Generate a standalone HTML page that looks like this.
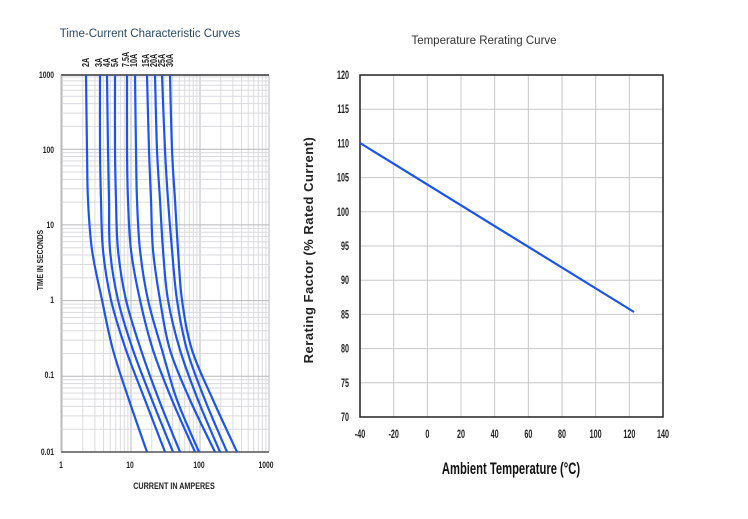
<!DOCTYPE html>
<html><head><meta charset="utf-8"><style>
body{margin:0;background:#fff;}
svg{display:block;}
</style></head><body>
<svg id="s" width="748" height="519" xmlns="http://www.w3.org/2000/svg" font-family="Liberation Sans, sans-serif">
<rect width="748" height="519" fill="#fff"/>
<g id="g"></g>
<text x="150" y="37" font-size="11.5" fill="#2b4a66" text-anchor="middle">Time-Current Characteristic Curves</text>
<text x="484" y="44" font-size="11.5" fill="#333" text-anchor="middle">Temperature Rerating Curve</text>
<g id="lt" font-weight="bold" font-size="9" fill="#222"></g>
<g id="cl" font-weight="bold" font-size="9" fill="#222"></g>
<g font-weight="bold" font-size="12" fill="#222" text-anchor="end" id="ry"></g>
<g font-weight="bold" font-size="12" fill="#222" text-anchor="middle" id="rx"></g>
<text transform="translate(511,474) scale(0.66,1)" font-weight="bold" font-size="17" fill="#111" text-anchor="middle">Ambient Temperature (°C)</text>
<text transform="translate(313,250) rotate(-90)" font-weight="bold" font-size="13" fill="#222" text-anchor="middle" letter-spacing="0.5">Rerating Factor (% Rated Current)</text>
</svg>
<script>
var g=document.getElementById('g'),h='';
function L(x1,y1,x2,y2,c,w){h+='<line x1="'+x1+'" y1="'+y1+'" x2="'+x2+'" y2="'+y2+'" stroke="'+c+'" stroke-width="'+(w||1)+'"/>';}
function T(x,y,t,sx,anchor){return '<text text-anchor="'+(anchor||'middle')+'" transform="translate('+x+','+y+') scale('+sx+',1)">'+t+'</text>';}
var X0=62,XD=69,Y0=452,YD=75.7,XR=269,YT=75;
for(var d=0;d<3;d++)for(var k=1;k<10;k++){var x=X0+XD*(d+Math.log10(k));L(x,YT,x,Y0,k==1?'#b8b8bc':'#dcdcdf');}
L(XR,YT,XR,Y0,'#b8b8bc');
for(var d=0;d<5;d++)for(var k=1;k<10;k++){var y=Y0-YD*(d+Math.log10(k));if(y<YT)continue;L(X0,y,XR,y,k==1?'#b8b8bc':'#dadade');}
L(X0-1,YT,XR,YT,'#333',1.5);L(X0-1,Y0,XR,Y0,'#555',1.5);L(X0-1,YT,X0-1,Y0,'#bbb');
var ys=[75,150,200,250,300,350,400,452];
var C=[[86,87,88,92,102,113,129,147],
[100,100,101,103,111,126,145,165],
[107,108,109,110,118,133,152,173],
[115,115,116,118,126,141,159,180],
[127,127,128,131,140,153,172,195],
[135,136,137,140,148,162,177,199],
[147,149,151,153,160,170,190,215],
[155,157,160,163,168,180,198,220],
[162,165,168,172,177,187,205,227],
[170,172,175,178,182,192,213,237]];
C.forEach(function(c){var p=c.map(function(x,i){return [x,ys[i]];});var d='M'+p[0];
for(var i=0;i<p.length-1;i++){var a=p[i-1]||p[i],b=p[i],e=p[i+1],f=p[i+2]||e;
d+=' C'+(b[0]+(e[0]-a[0])/6)+','+(b[1]+(e[1]-a[1])/6)+' '+(e[0]-(f[0]-b[0])/6)+','+(e[1]-(f[1]-b[1])/6)+' '+e;}
h+='<path d="'+d+'" fill="none" stroke="#1a55f0" stroke-width="2.2"/>';});
var RX0=360,RX1=663,RY0=417,RY1=75;
for(var i=1;i<9;i++){var x=RX0+i*(RX1-RX0)/9;L(x,RY1,x,RY0,'#c8c8cc');}
for(var i=1;i<10;i++){var y=RY0-i*(RY0-RY1)/10;L(RX0,y,RX1,y,'#c8c8cc');}
h+='<rect x="'+RX0+'" y="'+RY1+'" width="'+(RX1-RX0)+'" height="'+(RY0-RY1)+'" fill="none" stroke="#222" stroke-width="1.5"/>';
h+='<line x1="360" y1="143" x2="634" y2="312" stroke="#1a55f0" stroke-width="2.2"/>';
g.innerHTML=h;
var ry='',rx='';
for(var i=0;i<=10;i++){ry+=T(349,RY0-i*(RY0-RY1)/10+4,70+5*i,0.6,'end');}
for(var i=0;i<=9;i++){rx+=T(RX0+i*(RX1-RX0)/9,438,-40+20*i,0.6);}
document.getElementById('ry').innerHTML=ry;document.getElementById('rx').innerHTML=rx;
var lt='';
[['1000',78],['100',153],['10',228],['1',303],['0.1',378],['0.01',455]].forEach(function(a){lt+=T(54,a[1],a[0],0.75,'end');});
[['1',61],['10',130],['100',199],['1000',266]].forEach(function(a){lt+=T(a[1],468,a[0],0.75);});
lt+=T(174,489,'CURRENT IN AMPERES',0.8);
lt+='<text text-anchor="middle" transform="translate(43,260) rotate(-90) scale(0.8,1)" font-size="8.5">TIME IN SECONDS</text>';
document.getElementById('lt').innerHTML=lt;
var lab=['2A','3A','4A','5A','7.5A','10A','15A','20A','25A','30A'],lx=[86,99,107,115,126,134,146,154,162,170],cl='';
lab.forEach(function(t,i){cl+='<text transform="translate('+(lx[i]+3)+',67) rotate(-90) scale(0.8,1.1)">'+t+'</text>';});
document.getElementById('cl').innerHTML=cl;
</script>
</body></html>
